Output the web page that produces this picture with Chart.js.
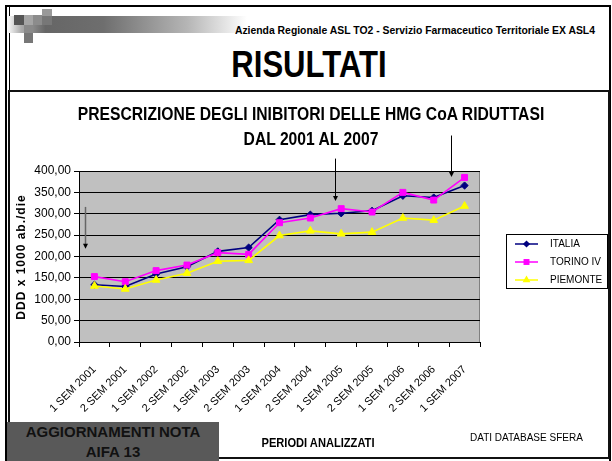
<!DOCTYPE html>
<html>
<head>
    <title>Risultati - Inibitori HMG CoA</title>
    <script src="https://cdn.jsdelivr.net/npm/chart.js"></script>
    <style>
        body {
            margin: 0;
            width: 612px;
            height: 461px;
            overflow: hidden;
            background: #fff;
            position: relative;
            font-family: 'Liberation Sans', Arial, sans-serif;
        }
        .abs { position: absolute; }
        .frame {
            left: 5px; top: 5px; width: 602px; height: 470px;
            border: 2px solid #000;
        }
        .frame-inner { left: 9px; top: 7px; width: 1px; height: 460px; background: #000; }
        .bar {
            left: 7px; top: 16px; width: 240px; height: 17px;
            background: linear-gradient(to right, #fff 0%, #aaa 6%, #666 16%, #6e6e6e 40%, #b5b5b5 75%, #fff 100%);
        }
        .sq { width: 10px; height: 10px; }
        .header-txt {
            right: 17px; top: 25px;
            font-size: 10.4px; font-weight: bold; color: #000;
        }
        .big-title {
            left: 0; width: 618px; top: 46px; text-align: center;
            font-size: 37px; line-height: 37px; font-weight: bold; color: #000;
            transform: scaleX(0.84);
        }
        .chart-box {
            left: 8px; top: 90px; width: 598px; height: 365px;
            border: 2px solid #111; background: #fff;
        }
        canvas { position: absolute; left: 0; top: 0; }
        .chart-title {
            left: 0; width: 622px; top: 101px; text-align: center;
            font-size: 19px; line-height: 25px; font-weight: bold; color: #000;
            transform: scaleX(0.825);
        }
        .y-title {
            left: 21px; top: 257px; width: 200px; margin-left: -100px; margin-top: -8px;
            height: 16px; line-height: 16px; text-align: center;
            transform: rotate(-90deg);
            font-size: 12px; font-weight: bold; letter-spacing: 1px; color: #000;
        }
        .x-title {
            left: 218px; width: 200px; top: 435px; text-align: center;
            font-size: 13px; line-height: 16px; font-weight: bold; color: #000;
            transform: scaleX(0.855);
        }
        .source {
            left: 470px; top: 432px;
            font-size: 10px; line-height: 12px; color: #000;
        }
        .note-box {
            left: 7px; top: 422px; width: 212px; height: 39px;
            background: #595959; color: #111;
            font-size: 15px; line-height: 20px; font-weight: bold; text-align: center;
        }
    </style>
</head>
<body>

<div class="abs frame"></div>
<div class="abs frame-inner"></div>
<div class="abs bar"></div>
<div class="abs sq" style="left:14px;top:15px;background:#555;"></div>
<div class="abs sq" style="left:24px;top:15px;width:9px;background:#a5a5a5;"></div>
<div class="abs sq" style="left:33px;top:15px;width:9px;background:#8c8c8c;"></div>
<div class="abs sq" style="left:42px;top:9px;height:7px;background:#999;"></div>
<div class="abs sq" style="left:42px;top:16px;height:9px;background:#777;"></div>
<div class="abs sq" style="left:24px;top:25px;width:9px;height:8px;background:#8a8a8a;"></div>
<div class="abs sq" style="left:24px;top:33px;width:9px;background:#777;"></div>
<div class="abs header-txt">Azienda Regionale ASL TO2 - Servizio Farmaceutico Territoriale EX ASL4</div>
<div class="abs big-title">RISULTATI</div>

<div class="abs chart-box"></div>
<canvas id="trendChart" width="612" height="461"></canvas>

<div class="abs chart-title">PRESCRIZIONE DEGLI INIBITORI DELLE HMG CoA RIDUTTASI<br>DAL 2001 AL 2007</div>
<div class="abs y-title">DDD x 1000 ab./die</div>
<div class="abs x-title">PERIODI ANALIZZATI</div>
<div class="abs source">DATI DATABASE SFERA</div>
<div class="abs note-box">AGGIORNAMENTI NOTA<br>AIFA 13</div>

<script>
    const periods = ['1 SEM 2001', '2 SEM 2001', '1 SEM 2002', '2 SEM 2002', '1 SEM 2003',
        '2 SEM 2003', '1 SEM 2004', '2 SEM 2004', '1 SEM 2005', '2 SEM 2005',
        '1 SEM 2006', '2 SEM 2006', '1 SEM 2007'];
    const italia = [134, 130, 159, 176, 212, 221, 286, 298, 301, 307, 342, 338, 366];
    const torino = [153, 141, 167, 180, 209, 205, 279, 290, 312, 304, 350, 332, 385];
    const piemonte = [131, 124, 145, 161, 189, 191, 249, 260, 253, 257, 290, 285, 318];
    const yMin = 0, yMax = 400, yStep = 50;
    // arrows: category position, start value, end value
    const arrowAt = [-0.31, 7.815, 11.56];
    const arrowFrom = [316, 429, 483];
    const arrowTo = [218, 330, 386];

    const FONT = "'Liberation Sans', Arial, sans-serif";

    // grey plot area like excel
    const plotBg = {
        id: 'plotBg',
        beforeDraw(chart) {
            const { ctx, chartArea: a } = chart;
            ctx.save();
            ctx.fillStyle = '#c0c0c0';
            ctx.fillRect(a.left, a.top, a.right - a.left, a.bottom - a.top);
            ctx.strokeStyle = '#808080';
            ctx.lineWidth = 1;
            ctx.strokeRect(a.left + 0.5, a.top + 0.5, a.right - a.left - 1, a.bottom - a.top);
            ctx.restore();
        }
    };

    const arrowsPlugin = {
        id: 'arrows',
        afterDraw(chart) {
            const { ctx } = chart;
            const xs = chart.scales.x, ys = chart.scales.y;
            ctx.save();
            arrowAt.forEach((pos, i) => {
                const x = Math.round(xs.getPixelForValue(pos)) + 0.5;
                const y0 = ys.getPixelForValue(arrowFrom[i]);
                const y1 = ys.getPixelForValue(arrowTo[i]);
                ctx.strokeStyle = i === 0 ? '#666' : '#000';
                ctx.lineWidth = i === 0 ? 1.5 : 1;
                ctx.beginPath();
                ctx.moveTo(x, y0);
                ctx.lineTo(x, y1 - 4);
                ctx.stroke();
                ctx.fillStyle = '#000';
                ctx.beginPath();
                ctx.moveTo(x - 2.5, y1 - 5);
                ctx.lineTo(x + 2.5, y1 - 5);
                ctx.lineTo(x, y1);
                ctx.closePath();
                ctx.fill();
            });
            ctx.restore();
        }
    };

    function marker(ctx, style, x, y, r) {
        ctx.beginPath();
        if (style === 'rect') {
            const s = r * Math.SQRT1_2;
            ctx.rect(x - s, y - s, 2 * s, 2 * s);
        } else if (style === 'rectRot') {
            ctx.moveTo(x, y - r); ctx.lineTo(x + r, y); ctx.lineTo(x, y + r); ctx.lineTo(x - r, y);
            ctx.closePath();
        } else {
            ctx.moveTo(x, y - r); ctx.lineTo(x + r * 0.87, y + r / 2); ctx.lineTo(x - r * 0.87, y + r / 2);
            ctx.closePath();
        }
        ctx.fill();
    }

    const boxLegend = {
        id: 'boxLegend',
        afterDraw(chart) {
            const { ctx } = chart;
            ctx.save();
            ctx.fillStyle = '#fff';
            ctx.fillRect(506, 234, 102, 55);
            ctx.strokeStyle = '#000';
            ctx.lineWidth = 1;
            ctx.strokeRect(506.5, 234.5, 101, 54);
            chart.data.datasets.forEach((ds, i) => {
                const y = 244 + i * 18;
                ctx.strokeStyle = ds.borderColor;
                ctx.lineWidth = 1.5;
                ctx.beginPath();
                ctx.moveTo(515, y);
                ctx.lineTo(538, y);
                ctx.stroke();
                ctx.fillStyle = ds.backgroundColor;
                marker(ctx, ds.pointStyle, 526.5, y, ds.pointRadius);
                ctx.fillStyle = '#000';
                ctx.font = '10px ' + FONT;
                ctx.textBaseline = 'middle';
                ctx.fillText(ds.label, 550, y + 0.5);
            });
            ctx.restore();
        }
    };

    new Chart(document.getElementById('trendChart'), {
        type: 'line',
        data: {
            labels: periods,
            datasets: [{
                label: 'ITALIA',
                data: italia,
                borderColor: '#000080',
                backgroundColor: '#000080',
                borderWidth: 1.6,
                pointStyle: 'rectRot',
                pointRadius: 3.6,
                pointBorderWidth: 1,
                order: 2
            }, {
                label: 'TORINO IV',
                data: torino,
                borderColor: '#ff00ff',
                backgroundColor: '#ff00ff',
                borderWidth: 1.6,
                pointStyle: 'rect',
                pointRadius: 4.2,
                pointBorderWidth: 1,
                order: 1
            }, {
                label: 'PIEMONTE',
                data: piemonte,
                borderColor: '#ffff00',
                backgroundColor: '#ffff00',
                borderWidth: 1.6,
                pointStyle: 'triangle',
                pointRadius: 4.5,
                pointBorderWidth: 1,
                order: 0
            }]
        },
        options: {
            responsive: false,
            animation: false,
            devicePixelRatio: 1,
            layout: {
                padding: { left: 0, top: 171, right: 132, bottom: 39 }
            },
            elements: { line: { tension: 0 } },
            plugins: {
                legend: { display: false },
                tooltip: { enabled: false },
                title: { display: false }
            },
            scales: {
                x: {
                    offset: true,
                    grid: {
                        offset: true,
                        drawOnChartArea: false,
                        drawTicks: true,
                        tickLength: 5,
                        color: '#000'
                    },
                    border: { display: true, color: '#000' },
                    ticks: {
                        color: '#000',
                        font: { family: FONT, size: 11 },
                        minRotation: 45,
                        maxRotation: 45,
                        autoSkip: false,
                        padding: 16
                    },
                    afterFit(scale) { scale.height = 80; }
                },
                y: {
                    min: yMin,
                    max: yMax,
                    ticks: {
                        stepSize: yStep,
                        color: '#000',
                        padding: 3,
                        font: { family: FONT, size: 12 },
                        callback: v => v.toFixed(2).replace('.', ',')
                    },
                    grid: {
                        color: '#000',
                        lineWidth: 1,
                        drawTicks: true,
                        tickLength: 5
                    },
                    border: { display: true, color: '#000' },
                    afterFit(scale) { scale.width = 79; }
                }
            }
        },
        plugins: [plotBg, arrowsPlugin, boxLegend]
    });
</script>

</body>
</html>
